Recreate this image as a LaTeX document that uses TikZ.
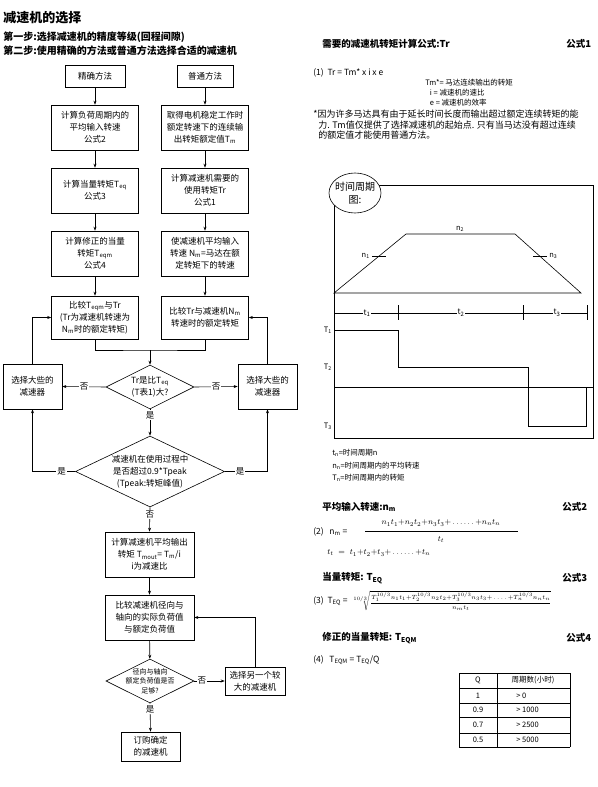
\documentclass[tikz,border=0pt]{standalone}
\usepackage{amsmath}
\usepackage{fontspec}
\setmainfont{Noto Sans CJK SC}
\usetikzlibrary{positioning,arrows.meta,shapes.geometric}
\tikzset{
block/.style={
draw,
minimum width=87pt,minimum height=45pt,align=center,inner sep=1pt},
decision/.style={draw,diamond,inner sep=0pt},
line/.style={-{Stealth[length=4pt,width=3pt]}},
lbl/.style={fill=white,inner sep=1pt},
txt/.style={anchor=west,inner sep=0pt},
head/.style={txt,font={\fontsize{9.5}{11}\selectfont\bfseries}},
small/.style={txt,font={\fontsize{7.5}{9}\selectfont}},
font={\fontsize{8.5}{12}\selectfont}
}

\begin{document}
\begin{tikzpicture}[x=1pt,y=-1pt,line width=0.6pt]
  \useasboundingbox (0,0) rectangle (597,787);
  % titles
  \node[txt,font={\fontsize{13}{14}\selectfont\bfseries}] (title) at (3,18) {减速机的选择};
  \node[head,font={\fontsize{10}{11}\selectfont\bfseries}] (step1) at (3,37) {第一步:选择减速机的精度等级(回程间隙)};
  \node[head,font={\fontsize{10}{11}\selectfont\bfseries}] (step2) at (3,51) {第二步:使用精确的方法或普通方法选择合适的减速机};
  % flow chart
  \node[block,minimum width=60pt,minimum height=22pt] (jq) at (95,76) {精确方法};
  \node[block,minimum width=56pt,minimum height=22pt] (pt) at (205,76) {普通方法};
  \node[block] (l1) at (95,127.5) {计算负荷周期内的\\平均输入转速\\公式2};
  \node[block] (r1) at (205,127.5) {取得电机稳定工作时\\额定转速下的连续输\\出转矩额定值T\textsubscript{m}};
  \node[block] (l2) at (95,190.5) {计算当量转矩T\textsubscript{eq}\\公式3};
  \node[block] (r2) at (205,190.5) {计算减速机需要的\\使用转矩Tr\\公式1};
  \node[block] (l3) at (95,253.5) {计算修正的当量\\转矩T\textsubscript{eqm}\\公式4};
  \node[block] (r3) at (205,253.5) {使减速机平均输入\\转速 N\textsubscript{m}=马达在额\\定转矩下的转速};
  \node[block,minimum height=43pt] (l4) at (95,317.5) {比较T\textsubscript{eqm}与Tr\\(Tr为减速机转速为\\N\textsubscript{m}时的额定转矩)};
  \node[block,minimum height=43pt] (r4) at (205,317.5) {比较Tr与减速机N\textsubscript{m}\\转速时的额定转矩};
  \node[block,minimum width=59pt] (bl) at (32.5,386.5) {选择大些的\\减速器};
  \node[block,minimum width=59pt] (br) at (267.5,386.5) {选择大些的\\减速器};
  \node[decision,minimum width=88pt,minimum height=44pt] (d1) at (150,387) {};
  \node[align=center] at (d1) {Tr是比T\textsubscript{eq}\\(T表1)大?};
  \node[decision,minimum width=149pt,minimum height=71pt] (d2) at (150,471.5) {};
  \node[align=center] at (d2) {减速机在使用过程中\\是否超过0.9*Tpeak\\(Tpeak:转矩峰值)};
  \node[block,minimum width=89pt] (c5) at (149.5,554.5) {计算减速机平均输出\\转矩 T\textsubscript{mout}= T\textsubscript{m}/i\\i为减速比};
  \node[block,minimum width=89pt] (c6) at (149.5,617.5) {比较减速机径向与\\轴向的实际负荷值\\与额定负荷值};
  \node[decision,minimum width=88pt,minimum height=44pt] (d3) at (150,681) {};
  \node[align=center,font={\fontsize{7}{9.5}\selectfont}] at (d3) {径向与轴向\\额定负荷值是否\\足够?};
  \node[block,minimum width=60pt,minimum height=28pt] (ob) at (255,681) {选择另一个较\\大的减速机};
  \node[block,minimum width=59pt,minimum height=29pt] (fin) at (150.5,746.5) {订购确定\\的减速机};
  \coordinate (join) at (150,350);
  \draw[line] (jq) -- (l1);
  \draw[line] (pt) -- (r1);
  \draw[line] (l1) -- (l2);
  \draw[line] (l2) -- (l3);
  \draw[line] (l3) -- (l4);
  \draw[line] (r1) -- (r2);
  \draw[line] (r2) -- (r3);
  \draw[line] (r3) -- (r4);
  \draw (l4.south) |- (join) -| (r4.south);
  \draw[line] (join) -- (d1.north);
  \draw[line] (d1.west) -- node[lbl]{否} (bl.east);
  \draw[line] (d1.east) -- node[lbl]{否} (br.west);
  \draw[line] (d1.south) -- node[lbl,pos=0.22]{是} (d2.north);
  \draw[line] (d2.west) -| node[lbl,pos=0.16]{是} (bl.south);
  \draw[line] (d2.east) -| node[lbl,pos=0.18]{是} (br.south);
  \draw[line] (bl.north) |- (l4.west);
  \draw[line] (br.north) |- (r4.east);
  \draw[line] (d2.south) -- node[lbl,pos=0.3]{否} (c5.north);
  \draw[line] (c5) -- (c6);
  \draw[line] (c6) -- (d3);
  \draw[line] (d3.east) -- node[lbl,pos=0.25]{否} (ob.west);
  \draw[line] (ob.north) |- (c6.east);
  \draw[line] (d3.south) -- node[lbl,pos=0.2]{是} (fin.north);
  % formula 1
  \node[head] at (322,44) {需要的减速机转矩计算公式:Tr};
  \node[head] at (566,44) {公式1};
  \node[txt,font={\fontsize{8.5}{10}\selectfont}] at (313,73) {(1)\ \ Tr = Tm* x i x e};
  \node[small] at (425,83) {Tm*= 马达连续输出的转矩};
  \node[small] at (428,93) {\ i = 减速机的速比};
  \node[small] at (428,103) {\ e = 减速机的效率};
  \node[txt,font={\fontsize{9}{10}\selectfont}] at (313,114) {*因为许多马达具有由于延长时间长度而输出超过额定连续转矩的能};
  \node[txt,font={\fontsize{9}{10}\selectfont}] at (318,125) {力. Tm值仅提供了选择减速机的起始点. 只有当马达没有超过连续};
  \node[txt,font={\fontsize{9}{10}\selectfont}] at (318,135) {的额定值才能使用普通方法。};
  % time cycle chart
  \draw (334,185) rectangle (593,438);
  \draw[fill=white] (355,193) ellipse [x radius=26, y radius=20];
  \node[align=center,font={\fontsize{10}{13}\selectfont}] at (355,193) {时间周期\\图:};
  \draw (334,293) -- (406,234) -- (515,234) -- (581,293) -- cycle;
  \draw (372,256) -- (386,256) (533,256) -- (547,256);
  \node[small,anchor=east] at (370,256) {n\textsubscript{1}};
  \node[small,anchor=south] at (460,232) {n\textsubscript{2}};
  \node[small] at (549,256) {n\textsubscript{3}};
  \draw (334,313) -- (587,313);
  \foreach \x in {334,398,523,587}
    \draw (\x,305) -- (\x,320);
  \node[lbl,font={\fontsize{8}{9}\selectfont}] at (367,313) {t\textsubscript{1}};
  \node[lbl,font={\fontsize{8}{9}\selectfont}] at (461,313) {t\textsubscript{2}};
  \node[lbl,font={\fontsize{8}{9}\selectfont}] at (557,313) {t\textsubscript{3}};
  \draw (334,330) -- (398,330) -- (398,367) -- (528,367) -- (528,426) -- (586,426) -- (586,387);
  \draw (334,387) -- (593,387);
  \node[small,anchor=east] at (332,330) {T\textsubscript{1}};
  \node[small,anchor=east] at (332,367) {T\textsubscript{2}};
  \node[small,anchor=east] at (332,426) {T\textsubscript{3}};
  \node[small] at (332,453) {t\textsubscript{n}=时间周期n};
  \node[small] at (332,466) {n\textsubscript{n}=时间周期内的平均转速};
  \node[small] at (332,478) {T\textsubscript{n}=时间周期内的转矩};
  % formula 2
  \node[head] at (322,507) {平均输入转速:n\textsubscript{m}};
  \node[head] at (562,507) {公式2};
  \node[txt,font={\fontsize{8.5}{10}\selectfont}] at (313,532) {(2)\ \ \ n\textsubscript{m} =};
  \node[font={\fontsize{8.5}{9}\selectfont}] at (441,523) {$n_1t_1{+}n_2t_2{+}n_3t_3{+}\,.\,.\,.\,.\,.\,.\,{+}n_nt_n$};
  \draw (365,531) -- (518,531);
  \node[font={\fontsize{8.5}{9}\selectfont}] at (441,540) {$t_t$};
  \node[txt,font={\fontsize{8.5}{9}\selectfont}] at (327,553) {$t_t\;=\;t_1{+}t_2{+}t_3{+}\,.\,.\,.\,.\,.\,.\,{+}t_n$};
  % formula 3
  \node[head] at (322,578) {当量转矩: T\textsubscript{EQ}};
  \node[head] at (562,578) {公式3};
  \node[txt,font={\fontsize{8.5}{10}\selectfont}] at (313,601) {(3)\ \ T\textsubscript{EQ} =};
  \node[txt,font={\fontsize{6.5}{7}\selectfont}] at (351,601) {$\sqrt[10/3]{\dfrac{T_1^{10/3}n_1t_1{+}T_2^{10/3}n_2t_2{+}T_3^{10/3}n_3t_3{+}\,.\,.\,.\,.\,{+}T_n^{10/3}n_nt_n}{n_mt_t}}$};
  % formula 4
  \node[head] at (322,638) {修正的当量转矩: T\textsubscript{EQM}};
  \node[head] at (566,638) {公式4};
  \node[txt,font={\fontsize{8.5}{10}\selectfont}] at (313,660) {(4)\ \ \ T\textsubscript{EQM} = T\textsubscript{EQ}/Q};
  \foreach \y in {673,688,703,717,733,747}
    \draw (459,\y) -- (570,\y);
  \foreach \x in {459,497,570}
    \draw (\x,673) -- (\x,747);
  \node[font={\fontsize{7.5}{9}\selectfont}] at (478,680.5) {Q};
  \node[font={\fontsize{7.5}{9}\selectfont}] at (533,680.5) {周期数(小时)};
  \foreach \y/\q/\h in {695.5/1/0,710/0.9/1000,725/0.7/2500,740/0.5/5000}{
    \node[font={\fontsize{7.5}{9}\selectfont}] at (478,\y) {\q};
    \node[small] at (516,\y) {> \h};
  }
\end{tikzpicture}
\end{document}
